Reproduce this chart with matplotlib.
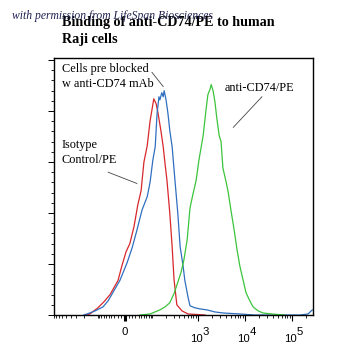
import numpy as np
import matplotlib.pyplot as plt
from matplotlib.transforms import blended_transform_factory, offset_copy

# histogram channels (display decades) and event counts
red_ch = [0.62, 0.70, 0.87, 1.00, 1.13, 1.30, 1.38, 1.47, 1.55, 1.64, 1.72, 1.79, 1.85, 1.92,
          1.98, 2.02, 2.06, 2.11, 2.15, 2.21, 2.26, 2.30, 2.34, 2.40, 2.45, 2.49, 2.55, 2.66,
          2.79, 2.98, 3.15]
red_ct = [0, 1, 7, 13, 20, 34, 48, 62, 70, 87, 108, 122, 150, 166,
          190, 201, 212, 207, 198, 181, 165, 148, 132, 100, 67, 35, 10, 4,
          1, 0.5, 0]

blue_ch = [0.57, 0.64, 0.81, 0.98, 1.09, 1.19, 1.34, 1.49, 1.60, 1.70, 1.81, 1.92, 1.98, 2.04,
           2.09, 2.13, 2.17, 2.19, 2.23, 2.26, 2.28, 2.32, 2.36, 2.40, 2.45, 2.51, 2.57, 2.62,
           2.68, 2.72, 2.79, 2.83, 2.94, 3.04, 3.19, 3.36, 3.53, 3.89, 4.21, 5.17, 5.34, 5.43]
blue_ct = [0, 1, 4, 8, 14, 22, 34, 51, 66, 83, 103, 116, 130, 152,
           165, 198, 214, 211, 218, 214, 220, 211, 198, 181, 165, 132, 100, 67,
           49, 34, 17, 9, 7, 6, 5, 3, 2, 1, 0, 0, 1, 5]

green_ch = [1.77, 1.98, 2.19, 2.30, 2.40, 2.49, 2.57, 2.64, 2.70, 2.77, 2.83, 2.89, 2.96,
            3.02, 3.11, 3.17, 3.21, 3.26, 3.28, 3.32, 3.36, 3.40, 3.45, 3.49, 3.53, 3.60,
            3.64, 3.70, 3.77, 3.83, 3.89, 3.96, 4.02, 4.09, 4.17, 4.28, 4.38, 4.57, 4.85]
green_ct = [0, 1, 5, 8, 12, 21, 32, 42, 54, 74, 105, 118, 132,
            152, 176, 201, 216, 222, 226, 220, 209, 193, 176, 170, 144, 130,
            121, 103, 83, 64, 48, 34, 22, 15, 8, 4, 2, 1, 0]

tick_vals = [0, 1e3, 1e4, 1e5]
tick_exps = [None, '3', '4', '5']


def chan(v):
    # biexponential display: linear near zero, log above ~10^3
    return 1.447 + np.arcsinh(np.asarray(v, dtype=float) / 56.0) / np.log(10)


fig = plt.figure(figsize=(3.37, 3.61), dpi=100)
ax = fig.add_axes([0.160, 0.1274, 0.769, 0.7119])

ax.plot(red_ch, red_ct, color='#d8282c', lw=0.9)
ax.plot(blue_ch, blue_ct, color='#2f6fc0', lw=0.9)
ax.plot(green_ch, green_ct, color='#3cc43c', lw=0.9)

ax.set_xlim(-0.064, 5.447)
ax.set_ylim(0, 252)

# x ticks
minor = []
for n in range(1, 6):
    for k in range(1, 10):
        minor.append(k * 10 ** n)
for n in range(1, 3):
    for k in range(1, 10):
        minor.append(-k * 10 ** n)
minor = [m for m in minor if -0.064 <= chan(m) <= 5.447]
ax.set_xticks(chan(tick_vals))
ax.set_xticklabels([])
ax.set_xticks(chan(minor), minor=True)
ax.tick_params(axis='x', which='major', direction='out', length=4, width=0.8)
ax.tick_params(axis='x', which='minor', direction='out', length=2.5, width=0.6)
ax.get_xticklines()[0].set_markeredgewidth(2.2)

# tick labels: "10" with a raised exponent
trans = blended_transform_factory(ax.transData, ax.transAxes)
lab = dict(fontsize=8.2, family='Liberation Sans', color='black')
for v, e in zip(tick_vals, tick_exps):
    x = float(chan(v))
    if e is None:
        ax.text(x, 0, '0', ha='center', va='top',
                transform=offset_copy(trans, fig, x=0, y=-12, units='dots'), **lab)
    else:
        ax.text(x, 0, '10', ha='right', va='top',
                transform=offset_copy(trans, fig, x=5, y=-19, units='dots'), **lab)
        ax.text(x, 0, e, ha='left', va='top',
                transform=offset_copy(trans, fig, x=5, y=-12, units='dots'), **lab)

# y ticks
ax.set_yticks(np.arange(0, 251, 50))
ax.set_yticks(np.arange(0, 251, 10), minor=True)
ax.set_yticklabels([])
ax.tick_params(axis='y', which='major', direction='out', length=4, width=0.7)
ax.tick_params(axis='y', which='minor', direction='out', length=2.5, width=0.6)

for s in ax.spines.values():
    s.set_linewidth(1.0)

# labels with leader lines
txt = dict(fontsize=8.8, family='Liberation Serif', color='black', linespacing=1.35)
ax.text(0.106, 247, 'Cells pre blocked\nw anti-CD74 mAb', va='top', ha='left', **txt)
ax.plot([2.02, 2.26], [238, 224], color='#444444', lw=0.6)
ax.text(0.106, 173, 'Isotype\nControl/PE', va='top', ha='left', **txt)
ax.plot([1.09, 1.70], [140, 129], color='#444444', lw=0.6)
ax.text(3.57, 228, 'anti-CD74/PE', va='top', ha='left', **txt)
ax.plot([4.36, 3.75], [214, 184], color='#444444', lw=0.6)

fig.text(62 / 337, 1 - 31 / 361, 'Binding of anti-CD74/PE to human\nRaji cells',
         ha='left', va='center', fontsize=10.2, fontweight='bold',
         family='Liberation Serif', linespacing=1.42)
fig.text(12 / 337, 1 - 16 / 361, 'with permission from LifeSpan Biosciences',
         ha='left', va='center', fontsize=8.4, style='italic',
         family='Liberation Serif', color='#202050')

fig.savefig('out.png', dpi=100)
